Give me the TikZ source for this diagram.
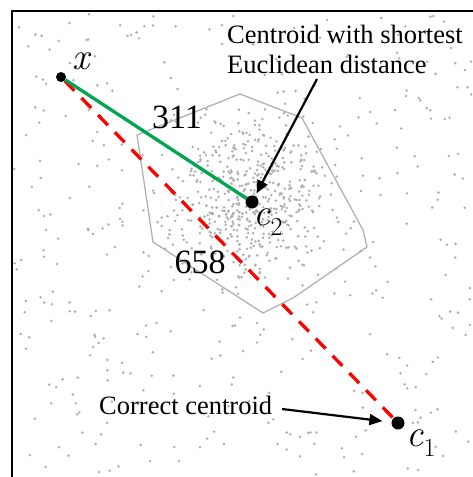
\documentclass[tikz,border=0pt]{standalone}
\usepackage{fontspec}
\setmainfont{Liberation Serif}
\newfontfamily\lmfont{Latin Modern Roman}
\usetikzlibrary{arrows.meta}
\definecolor{ptgray}{RGB}{175,175,175}
\definecolor{hullgray}{RGB}{178,178,178}
\definecolor{eucgreen}{RGB}{0,166,81}
\definecolor{wrongred}{RGB}{255,0,0}
\newcommand{\varlbl}[2]{{\lmfont\itshape #1}\raisebox{-0.28em}{\lmfont\fontsize{26}{28}\selectfont #2}}
\tikzset{
  pt/.style={fill=ptgray},
  dotnode/.style={circle,fill=black,inner sep=0pt,minimum size=#1},
  mathlbl/.style={inner sep=0pt,font=\lmfont\fontsize{38}{42}\selectfont},
  numlbl/.style={inner sep=0pt,font=\fontsize{34}{38}\selectfont},
  txt/.style={inner sep=0pt,font=\fontsize{26.5}{30}\selectfont},
  greenline/.style={draw=eucgreen,line width=3.3pt},
  redline/.style={draw=wrongred,line width=3.3pt,dash pattern=on 14pt off 10pt},
  hull/.style={draw=hullgray,line width=1.3pt,line join=round},
  arr/.style={draw=black,line width=2.2pt,-{Triangle[length=13pt,width=11pt]}},
  frame/.style={draw=black,line width=1.6pt}
}
\begin{document}
\begin{tikzpicture}[x=1pt,y=-1pt]
\useasboundingbox (0,0) rectangle (472,477);
\fill[white] (0,0) rectangle (472,477);
% frame (only left and top visible)
\draw[frame] (12,490) -- (12,11) -- (490,11);
% scattered points
\begin{scope}
\clip (13,12) rectangle (472,477);
\pgfmathsetseed{4242}
\foreach \i in {1,...,380}{
  \pgfmathsetmacro\px{14+rnd*458}
  \pgfmathsetmacro\py{14+rnd*463}
  \fill[pt] (\px,\py) circle (1.4pt);
}
\foreach \i in {1,...,520}{
  \pgfmathsetmacro\px{250+(rand+rand+rand)*38}
  \pgfmathsetmacro\py{195+(rand+rand+rand)*36}
  \fill[pt] (\px,\py) circle (1.4pt);
}
\end{scope}
% cluster hull
\draw[hull] (137,135) -- (240,94) -- (302,118) -- (363,230) -- (367,247)
  -- (293,298) -- (263,313) -- (153,242) -- cycle;
% points
\node[dotnode=10pt] (xp) at (61,77) {};
\node[dotnode=13pt] (c2) at (252,202) {};
\node[dotnode=13pt] (c1) at (398,423) {};
% distances
\draw[redline] (xp) -- (c1);
\draw[greenline] (xp) -- (c2);
% labels
\node[mathlbl] (xl) at (81,66) {\varlbl{x}{}};
\node[mathlbl] (c2l) at (268,222) {\varlbl{c}{2}};
\node[mathlbl] (c1l) at (421,443) {\varlbl{c}{1}};
\node[numlbl] (d1) at (177,117) {311};
\node[numlbl] (d2) at (200,262) {658};
% annotations
\node[txt,anchor=base west,align=left] (t1) at (227,73) {Centroid with shortest\\Euclidean distance};
\node[txt,anchor=base west] (t2) at (99,414) {Correct centroid};
\coordinate (a1) at (317,79);
\coordinate (a2) at (282,409);
\draw[arr,shorten >=3pt] (a1) -- (c2);
\draw[arr,shorten >=9pt] (a2) -- (c1);
\end{tikzpicture}
\end{document}
